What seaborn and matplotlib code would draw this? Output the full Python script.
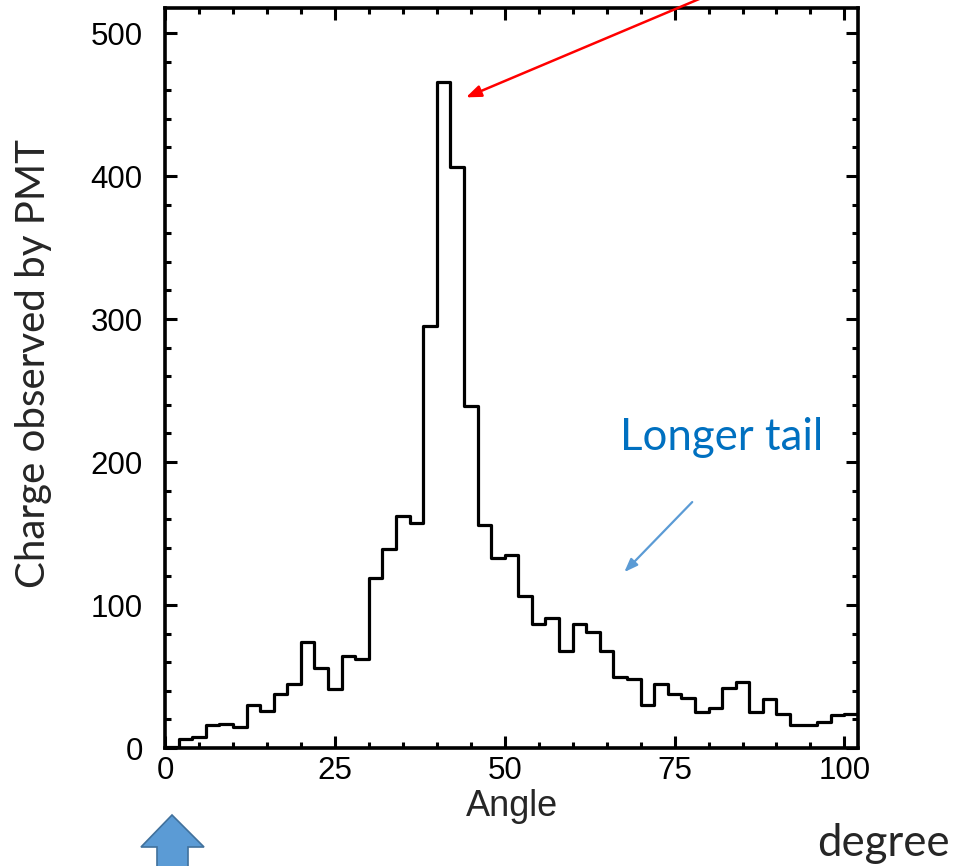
import numpy as np
import seaborn as sns
import matplotlib.pyplot as plt
from matplotlib.patches import Polygon
from matplotlib.ticker import MultipleLocator

# histogram contents, 2 degree bins from 0 to 102
bin_edges = list(range(0, 104, 2))
charge = [1, 6, 8, 16, 17, 15, 30, 26, 38, 45,
          74, 56, 41, 64, 62, 119, 139, 162, 157, 295,
          466, 406, 239, 156, 133, 135, 106, 87, 91, 68,
          87, 81, 68, 50, 48, 30, 45, 38, 35, 25,
          28, 42, 46, 25, 34, 24, 16, 16, 18, 23, 24]
centers = [(a + b) / 2 for a, b in zip(bin_edges[:-1], bin_edges[1:])]

sns.set_style("ticks")
plt.rcParams["font.family"] = ["Liberation Sans", "DejaVu Sans"]

W, H = 967, 866
fig = plt.figure(figsize=(W / 100, H / 100), dpi=100)
ax = fig.add_axes([165 / W, 1 - 748 / H, (858 - 165) / W, (748 - 8) / H])

sns.histplot(x=centers, weights=charge, bins=bin_edges, element="step",
             fill=False, color="black", linewidth=2.3, ax=ax)

ax.set_xlim(0, 102)
ax.set_ylim(0, 517.5)
ax.xaxis.set_major_locator(MultipleLocator(25))
ax.xaxis.set_minor_locator(MultipleLocator(5))
ax.yaxis.set_major_locator(MultipleLocator(100))
ax.yaxis.set_minor_locator(MultipleLocator(20))
ax.tick_params(which="both", direction="in", top=True, right=True, width=2.2,
               labelsize=22.5, colors="black")
ax.tick_params(which="major", length=8.5)
ax.tick_params(which="minor", length=4)
ax.tick_params(axis="y", which="major", pad=16)
ax.tick_params(axis="x", which="major", pad=6)
for s in ax.spines.values():
    s.set_linewidth(2.6)
    s.set_color("black")

ax.set_xlabel("Angle", fontsize=26, labelpad=2)
ax.set_ylabel("Charge observed by PMT", fontsize=29, family=["Lato", "DejaVu Sans"],
              labelpad=28, y=0.52)

# red arrow pointing at the peak
ax.annotate("", xy=(44.3, 455), xytext=(705 / W, 1.004), textcoords="figure fraction",
            annotation_clip=False,
            arrowprops=dict(arrowstyle="-|>,head_length=0.9,head_width=0.35",
                            color="#FF0000", lw=1.8, shrinkA=0, shrinkB=0))

# blue arrow for the tail
ax.text(82, 217, "Longer tail", color="#0070C0", fontsize=31.5,
        family=["Lato", "DejaVu Sans"], ha="center", va="center")
ax.annotate("", xy=(67.6, 123), xytext=(77.6, 172),
            arrowprops=dict(arrowstyle="-|>,head_length=0.8,head_width=0.3",
                            color="#5B9BD5", lw=1.6, shrinkA=0, shrinkB=0))

fig.text(883 / W, 1 - 843 / H, "degree", fontsize=31.5, family=["Lato", "DejaVu Sans"],
         ha="center", va="center")

# block arrow under the origin
pts = [(141, 847), (172, 815), (204, 847), (188, 847), (188, 870), (157, 870), (157, 847)]
fig.add_artist(Polygon([(x / W, 1 - y / H) for x, y in pts], closed=True,
                       transform=fig.transFigure, facecolor="#5B9BD5",
                       edgecolor="#41719C", linewidth=1.2, clip_on=False))

fig.savefig("out.png", dpi=100)
